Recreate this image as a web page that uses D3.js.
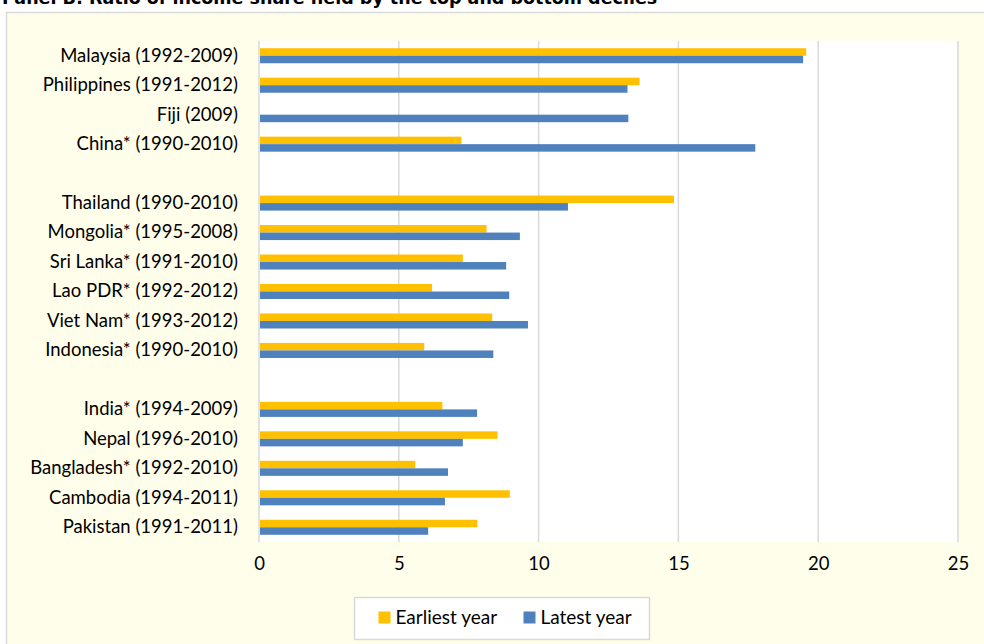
<!DOCTYPE html>
<html>
<head>
<meta charset="utf-8">
<script src="https://cdn.jsdelivr.net/npm/d3@7"></script>
<style>
  body { margin: 0; background: #fff; }
  text { font-family: Lato, "Open Sans", sans-serif; fill: #000; }
</style>
</head>
<body>
<div id="plot"></div>
<script>
// categories top to bottom, "gap" entries are the empty rows between groups
var countries = ["Malaysia (1992-2009)", "Philippines (1991-2012)", "Fiji (2009)", "China* (1990-2010)", "gap1",
    "Thailand (1990-2010)", "Mongolia* (1995-2008)", "Sri Lanka* (1991-2010)", "Lao PDR* (1992-2012)",
    "Viet Nam* (1993-2012)", "Indonesia* (1990-2010)", "gap2",
    "India* (1994-2009)", "Nepal (1996-2010)", "Bangladesh* (1992-2010)", "Cambodia (1994-2011)", "Pakistan (1991-2011)"];
var earliest = [19.57, 13.61, null, 7.24, null,
    14.84, 8.14, 7.29, 6.19, 8.34, 5.91, null,
    6.56, 8.53, 5.59, 8.97, 7.81];
var latest = [19.46, 13.18, 13.21, 17.75, null,
    11.05, 9.33, 8.84, 8.95, 9.62, 8.38, null,
    7.80, 7.29, 6.76, 6.65, 6.05];
var seriesNames = ["Earliest year", "Latest year"];
var seriesColors = ["#FFC000", "#4F81BD"];
var xTicks = [0, 5, 10, 15, 20, 25];

var W = 984, H = 644;
var margin = {t: 41, r: 26, b: 102, l: 259};
var width = W - margin.l - margin.r,
    height = H - margin.t - margin.b;

var svg = d3.select('#plot').append('svg')
    .attr('width', W)
    .attr('height', H);

// title, mostly cut off at the top like the source
svg.append("text")
    .attr("x", 2)
    .attr("y", 4)
    .style("font-family", "'DejaVu Sans', Verdana, sans-serif")
    .style("font-weight", "bold")
    .style("font-size", "17.5px")
    .text("Panel B: Ratio of income share held by the top and bottom deciles");

// chart box
svg.append("rect")
    .attr("x", 6.5).attr("y", 12.5)
    .attr("width", W).attr("height", H)
    .attr("fill", "#FFFEEA")
    .attr("stroke", "#D9D9D9")
    .attr("stroke-width", 1.5);

var g = svg.append("g")
    .attr("transform", "translate(" + margin.l + "," + margin.t + ")");

var rows = countries.map(function(c, i) {
    return {country: c, values: [earliest[i], latest[i]]};
});

var x = d3.scaleLinear().domain([0, 25]).range([0, width]);
var y = d3.scaleBand().domain(countries).range([0, height])
    .paddingInner(0.49).paddingOuter(0.245);
var ySub = d3.scaleBand().domain([0, 1]).range([0, y.bandwidth()]);

g.append("rect")
    .attr("width", width)
    .attr("height", height)
    .attr("fill", "#fff");

// gridlines
g.append("g").selectAll("line")
    .data(xTicks)
    .enter().append("line")
    .attr("x1", function(d) { return x(d); })
    .attr("x2", function(d) { return x(d); })
    .attr("y1", 0)
    .attr("y2", height)
    .attr("stroke", "#D9D9D9")
    .attr("stroke-width", 1.5);

// bars
var rowG = g.append("g").selectAll("g")
    .data(rows)
    .enter().append("g")
    .attr("transform", function(d) { return "translate(0," + y(d.country) + ")"; });

rowG.selectAll("rect")
    .data(function(d) {
        return d.values.map(function(v, i) { return {v: v, i: i}; })
            .filter(function(e) { return e.v != null; });
    })
    .enter().append("rect")
    .attr("x", x(0) + 1)
    .attr("y", function(d) { return ySub(d.i); })
    .attr("width", function(d) { return x(d.v) - x(0) - 1; })
    .attr("height", ySub.bandwidth())
    .attr("fill", function(d) { return seriesColors[d.i]; });

// y axis labels
var yAxis = d3.axisLeft(y).tickSize(0).tickPadding(21)
    .tickFormat(function(d) { return d.indexOf("gap") === 0 ? "" : d; });
g.append("g")
    .call(yAxis)
    .call(function(s) { s.select(".domain").remove(); })
    .selectAll("text")
    .style("font-family", "Lato, sans-serif")
    .style("font-size", "18.5px");

// x axis labels
var xAxis = d3.axisBottom(x).tickValues(xTicks).tickSize(0).tickPadding(15);
g.append("g")
    .attr("transform", "translate(0," + height + ")")
    .call(xAxis)
    .call(function(s) { s.select(".domain").remove(); })
    .selectAll("text")
    .style("font-family", "Lato, sans-serif")
    .style("font-size", "18.5px");

// legend
var legend = svg.append("g").attr("transform", "translate(354.5,597.5)");
legend.append("rect")
    .attr("width", 295)
    .attr("height", 42)
    .attr("fill", "#fff")
    .attr("stroke", "#D9D9D9")
    .attr("stroke-width", 1.5);

var legX = [24, 169];
var item = legend.selectAll(".item")
    .data(seriesNames)
    .enter().append("g")
    .attr("class", "item")
    .attr("transform", function(d, i) { return "translate(" + legX[i] + ",14)"; });
item.append("rect")
    .attr("width", 12)
    .attr("height", 12)
    .attr("fill", function(d, i) { return seriesColors[i]; });
item.append("text")
    .attr("x", 17)
    .attr("y", 6)
    .attr("dy", "0.35em")
    .style("font-size", "19px")
    .text(function(d) { return d; });
</script>
</body>
</html>
